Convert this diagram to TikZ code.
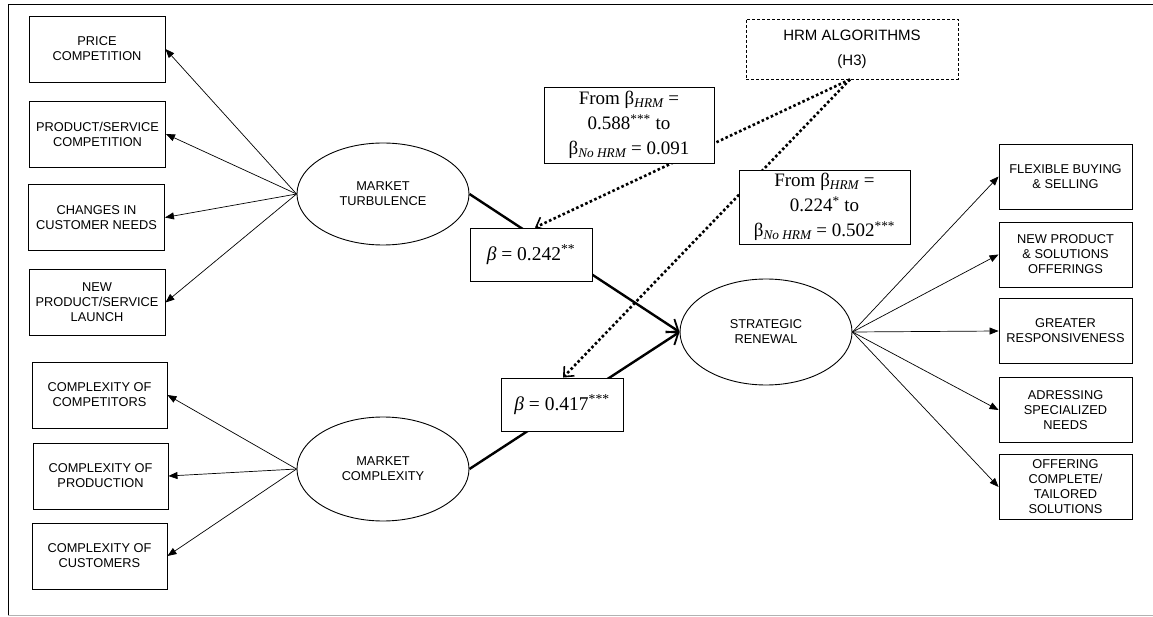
\documentclass[tikz,border=0pt]{standalone}
\usepackage{amsmath}
\usepackage{fontspec}
\setmainfont{Liberation Sans}
\newfontfamily\serifa{Liberation Serif}
\usetikzlibrary{arrows.meta,shapes.geometric,backgrounds}
\newcommand{\subit}[1]{$_{\text{\serifa\itshape #1}}$}
\newcommand{\sstar}[1]{\textsuperscript{#1}}
\begin{document}
\begin{tikzpicture}[x=1pt,y=-1pt,
 box/.style={draw,line width=0.9pt,minimum width=136pt,minimum height=66pt,align=center,font=\fontsize{12.8}{15}\selectfont,inner sep=1pt},
 rbox/.style={box,minimum width=133pt,minimum height=65pt},
 lat/.style={draw,ellipse,line width=0.9pt,minimum width=172pt,minimum height=104pt,align=center,font=\fontsize{12.8}{15}\selectfont,inner sep=0pt},
 loadarr/.style={line width=0.7pt,-{Triangle[length=9pt,width=7pt]}},
 patharr/.style={line width=2.4pt,-{Straight Barb[length=10pt,width=16pt,line width=1.8pt]}},
 modarr/.style={line width=2.6pt,dash pattern=on 2.6pt off 2.4pt,-{Straight Barb[length=8pt,width=14pt,line width=1.6pt]}},
 coef/.style={draw,fill=white,line width=0.9pt,minimum width=122pt,minimum height=53pt,font=\serifa\fontsize{19.5}{22}\selectfont},
 frombox/.style={draw,fill=white,line width=0.9pt,align=center,font=\serifa\fontsize{19}{25}\selectfont,inner sep=0pt},
 modbox/.style={draw,dash pattern=on 3pt off 2pt,line width=0.9pt,minimum width=212pt,minimum height=60pt,align=center,font=\fontsize{15}{25}\selectfont}]
\useasboundingbox (0,0) rectangle (1153,617);
% frame
\draw[line width=1pt] (1153,5) -- (8,5) -- (8,615);
\draw[line width=1pt,gray!60] (8,615) -- (1153,615);

% left indicator boxes
\node[box] (price) at (97,49) {PRICE\\COMPETITION};
\node[box] (prodserv) at (97.5,134) {PRODUCT/SERVICE\\COMPETITION};
\node[box] (changes) at (96.5,217.5) {CHANGES IN\\CUSTOMER NEEDS};
\node[box] (newprod) at (97,302.5) {NEW\\PRODUCT/SERVICE\\LAUNCH};
\node[box,minimum width=135pt] (ccomp) at (99.5,395) {COMPLEXITY OF\\COMPETITORS};
\node[box,minimum width=135pt] (cprod) at (100.5,476) {COMPLEXITY OF\\PRODUCTION};
\node[box,minimum width=135pt] (ccust) at (99.5,556) {COMPLEXITY OF\\CUSTOMERS};

% latent variables
\node[lat,minimum height=102pt] (mt) at (383,194) {MARKET\\TURBULENCE};
\node[lat] (mc) at (383,469) {MARKET\\COMPLEXITY};
\node[lat,minimum height=106pt] (sr) at (766,332) {STRATEGIC\\RENEWAL};

% right indicator boxes
\node[rbox] (flex) at (1065.5,176.5) {FLEXIBLE BUYING\\\& SELLING};
\node[rbox] (newp) at (1065.5,254.5) {NEW PRODUCT\\\& SOLUTIONS\\OFFERINGS};
\node[rbox] (greater) at (1065.5,331) {GREATER\\RESPONSIVENESS};
\node[rbox] (adress) at (1065.5,410) {ADRESSING\\SPECIALIZED\\NEEDS};
\node[rbox] (offer) at (1065.5,487) {OFFERING\\COMPLETE/\\TAILORED\\SOLUTIONS};

% moderator
\node[modbox] (hrm) at (852,49) {HRM ALGORITHMS\\(H3)};

% coefficient boxes
\node[coef] (b1) at (531,254.5) {{\itshape β} = 0.242\sstar{**}\hspace{8pt}};
\node[coef] (b2) at (562,404.5) {{\itshape β} = 0.417\sstar{***}\hspace{6pt}};
\node[frombox,minimum width=170pt,minimum height=76pt] (f1) at (629,125)
  {From β\subit{HRM} =\\0.588\sstar{***} to\\β\subit{No HRM} = 0.091};
\node[frombox,minimum width=171pt,minimum height=74pt] (f2) at (824.5,207)
  {From β\subit{HRM} =\\0.224\sstar{*} to\\β\subit{No HRM} = 0.502\sstar{***}};

\begin{pgfonlayer}{background}
\draw[loadarr] (mt.west) -- (price.east);
\draw[loadarr] (mt.west) -- (prodserv.east);
\draw[loadarr] (mt.west) -- (changes.east);
\draw[loadarr] (mt.west) -- (newprod.east);
\draw[loadarr] (mc.west) -- (ccomp.east);
\draw[loadarr] (mc.west) -- (cprod.east);
\draw[loadarr] (mc.west) -- (ccust.east);
\draw[loadarr] (sr.east) -- (flex.west);
\draw[loadarr] (sr.east) -- (newp.west);
\draw[loadarr] (sr.east) -- (greater.west);
\draw[loadarr] (sr.east) -- (adress.west);
\draw[loadarr] (sr.east) -- (offer.west);
\draw[patharr] (mt.east) -- (sr.west);
\draw[patharr] (mc.east) -- (sr.west);
\draw[modarr] ([xshift=-2pt]hrm.south) -- ([xshift=4pt]b1.north);
\draw[modarr] ([xshift=-2pt]hrm.south) -- ([xshift=1pt]b2.north);
\end{pgfonlayer}
\end{tikzpicture}
\end{document}
